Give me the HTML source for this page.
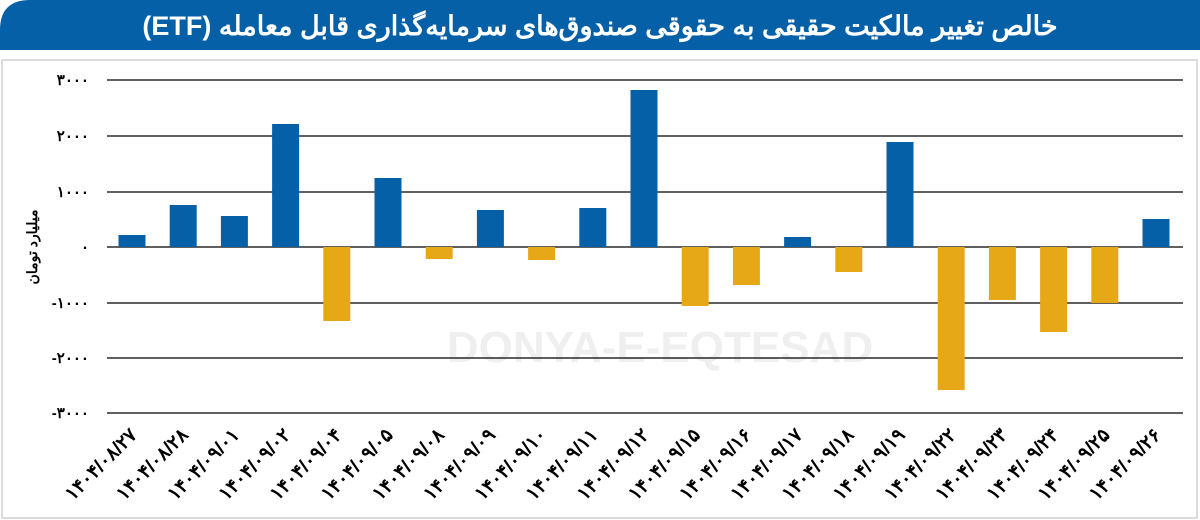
<!DOCTYPE html>
<html><head><meta charset="utf-8"><style>
html,body{margin:0;padding:0;background:#fff;}
svg{display:block}
</style></head><body>
<svg width="1200" height="520" xmlns="http://www.w3.org/2000/svg" font-family="'Liberation Sans','Noto Sans CJK SC',sans-serif">
<path d="M30 0 H1200 V50 H0 V30 Q0 0 30 0Z" fill="#0660a7"/>
<rect x="2" y="60" width="1195" height="458" fill="#fff" stroke="#dcdcdc" stroke-width="2"/>
<text x="600" y="35" text-anchor="middle" fill="#fff" font-size="27" font-weight="bold" direction="rtl">خالص تغییر مالکیت حقیقی به حقوقی صندوق‌های سرمایه‌گذاری قابل معامله (ETF)</text>
<text x="660" y="362" text-anchor="middle" fill="#efefef" font-size="44" font-weight="bold">DONYA-E-EQTESAD</text>
<g stroke="#000" stroke-width="1.3">
<line x1="107" x2="1183" y1="80" y2="80"/><line x1="107" x2="1183" y1="136" y2="136"/>
<line x1="107" x2="1183" y1="192" y2="192"/><line x1="107" x2="1183" y1="247" y2="247"/>
<line x1="107" x2="1183" y1="303" y2="303"/><line x1="107" x2="1183" y1="358" y2="358"/>
<line x1="107" x2="1183" y1="413" y2="413"/>
</g>
<g font-size="15" font-weight="bold" text-anchor="end" fill="#000">
<text x="89" y="85">۳۰۰۰</text><text x="89" y="141">۲۰۰۰</text><text x="89" y="197">۱۰۰۰</text>
<text x="89" y="252">۰</text><text x="89" y="308">-۱۰۰۰</text><text x="89" y="363">-۲۰۰۰</text><text x="89" y="418">-۳۰۰۰</text>
</g>
<text transform="translate(37,247) rotate(-90)" text-anchor="middle" font-size="14" font-weight="bold" direction="rtl">میلیارد تومان</text>
<g id="bars"></g>
<g id="labels" font-size="19" font-weight="bold" text-anchor="end"></g>
<script>
var tops=[235,205,216,124,321,178,259,210,260,208,90,306,285,237,272,142,390,300,332,303,219];
var pos=[1,1,1,1,0,1,0,1,0,1,1,0,0,1,0,1,0,0,0,0,1];
var labs=["۱۴۰۴/۰۸/۲۷","۱۴۰۴/۰۸/۲۸","۱۴۰۴/۰۹/۰۱","۱۴۰۴/۰۹/۰۲","۱۴۰۴/۰۹/۰۴","۱۴۰۴/۰۹/۰۵","۱۴۰۴/۰۹/۰۸","۱۴۰۴/۰۹/۰۹","۱۴۰۴/۰۹/۱۰","۱۴۰۴/۰۹/۱۱","۱۴۰۴/۰۹/۱۲","۱۴۰۴/۰۹/۱۵","۱۴۰۴/۰۹/۱۶","۱۴۰۴/۰۹/۱۷","۱۴۰۴/۰۹/۱۸","۱۴۰۴/۰۹/۱۹","۱۴۰۴/۰۹/۲۲","۱۴۰۴/۰۹/۲۳","۱۴۰۴/۰۹/۲۴","۱۴۰۴/۰۹/۲۵","۱۴۰۴/۰۹/۲۶"];
var ns="http://www.w3.org/2000/svg",b=document.getElementById("bars"),l=document.getElementById("labels");
for(var i=0;i<21;i++){var c=132+i*51.2;var r=document.createElementNS(ns,"rect");
var y1=Math.min(tops[i],247),y2=Math.max(tops[i],247);
r.setAttribute("x",c-13.5);r.setAttribute("width",27);r.setAttribute("y",y1);r.setAttribute("height",y2-y1);
r.setAttribute("fill",pos[i]?"#0660a7":"#e6a817");b.appendChild(r);
var t=document.createElementNS(ns,"text");t.setAttribute("transform","translate("+(c+6)+",436) rotate(-45)");
t.textContent=labs[i];l.appendChild(t);}
</script>
</svg>
</body></html>
